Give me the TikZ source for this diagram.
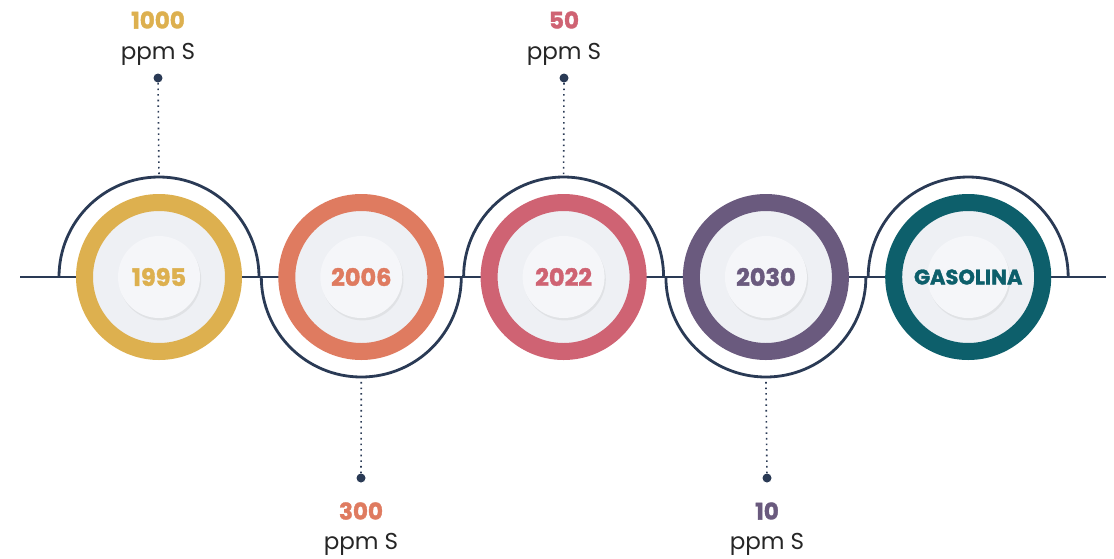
\documentclass[tikz,border=0pt]{standalone}
\usepackage{fontspec}
\setmainfont{Poppins}[BoldFeatures={FakeBold=1.6}]
\usetikzlibrary{positioning,shadows}
\definecolor{navy}{HTML}{2A3A55}
\definecolor{gold}{HTML}{DDB04F}
\definecolor{coral}{HTML}{DF7B60}
\definecolor{rose}{HTML}{CF6373}
\definecolor{plum}{HTML}{6A5A7E}
\definecolor{teal}{HTML}{0D5F6B}
\definecolor{plate}{HTML}{EEF0F4}
\definecolor{platehi}{HTML}{F5F6F9}

\begin{document}
\begin{tikzpicture}[x=0.5pt,y=-0.5pt]
  \tikzset{ring/.style = {circle, minimum size=74.5pt, inner sep=0pt, line width=8.5pt, fill=plate},
           cup/.style = {circle, minimum size=41pt, inner sep=0pt, fill=platehi,
                         drop shadow={opacity=0.12, shadow xshift=0.6pt, shadow yshift=-1.2pt}},
           yeartext/.style = {font=\bfseries\fontsize{12}{14}\selectfont},
           valtext/.style = {font=\bfseries\fontsize{11.5}{13}\selectfont},
           unittext/.style = {font=\fontsize{11.5}{13}\selectfont, text=black!85, inner sep=1pt},
           dot/.style = {circle, fill=navy, minimum size=4.5pt, inner sep=0pt},
           stem/.style = {navy, dotted, line width=0.8pt},
           arcline/.style = {navy, line width=1.4pt}}
  \useasboundingbox (0,0) rectangle (1114,558);

  % time line
  \coordinate (lstart) at (20,277);
  \coordinate (lend) at (1106,277);
  \draw[arcline] (lstart) -- (lend);

  % circles and half rings
  \foreach \i/\lab/\col/\e in {0/1995/gold/0,1/2006/coral/360,2/2022/rose/0,3/2030/plum/360,4/GASOLINA/teal/0} {
    \coordinate (m\i) at (159+202.3*\i,277);
    \draw[arcline] ([xshift=-50pt]m\i) arc[start angle=180, end angle=\e, radius=50pt];
    \node[ring, draw=\col] (c\i) at (m\i) {};
    \node[cup] (p\i) at (m\i) {};
  }
  \node[yeartext, text=gold] (t0) at (m0) {1995};
  \node[yeartext, text=coral] (t1) at (m1) {2006};
  \node[yeartext, text=rose] (t2) at (m2) {2022};
  \node[yeartext, text=plum] (t3) at (m3) {2030};
  \node[yeartext, text=teal, font=\bfseries\fontsize{10.5}{12}\selectfont] (t4) at (m4) {GASOLINA};

  % stems
  \coordinate (a0) at ([yshift=50pt]m0);
  \coordinate (a1) at ([yshift=-50pt]m1);
  \coordinate (a2) at ([yshift=50pt]m2);
  \coordinate (a3) at ([yshift=-50pt]m3);
  \node[dot] (d0) at (158,78) {};
  \node[dot] (d1) at (361,478) {};
  \node[dot] (d2) at (564,78) {};
  \node[dot] (d3) at (767,478) {};
  \draw[stem] (d0) -- (a0);
  \draw[stem] (d1) -- (a1);
  \draw[stem] (d2) -- (a2);
  \draw[stem] (d3) -- (a3);

  % labels
  \node[valtext, text=gold] (v0) at (158,20) {1000};
  \node[unittext] (u0) at (158,54) {ppm S};
  \node[valtext, text=coral] (v1) at (361,511) {300};
  \node[unittext] (u1) at (361,544) {ppm S};
  \node[valtext, text=rose] (v2) at (564,20) {50};
  \node[unittext] (u2) at (564,54) {ppm S};
  \node[valtext, text=plum] (v3) at (767,511) {10};
  \node[unittext] (u3) at (767,544) {ppm S};
\end{tikzpicture}
\end{document}
